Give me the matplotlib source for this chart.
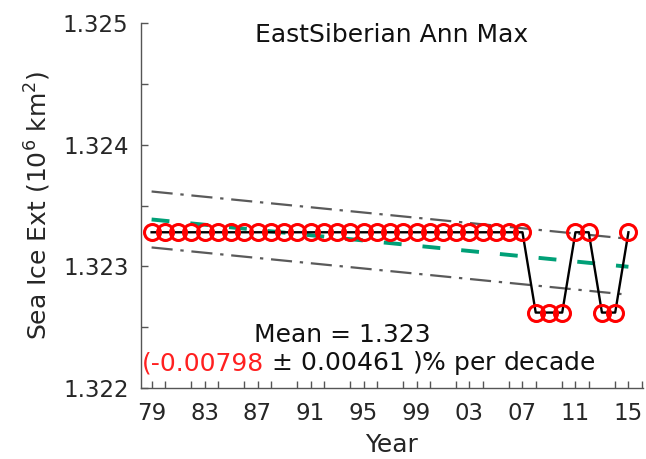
import numpy as np
import matplotlib
matplotlib.use("Agg")
import matplotlib.pyplot as plt
from matplotlib.ticker import MultipleLocator, FixedLocator

# Data
years = np.arange(1979, 2016)
high, low = 1.32328, 1.32262
values = np.array([high] * 29 + [low] * 3 + [high] * 2 + [low] * 2 + [high])
ci_offset = 0.00023
mean_text = "Mean = 1.323"
trend_val = "-0.00798"
trend_err = "0.00461"
xtick_years = list(range(1979, 2016, 4))
xtick_labels = [f"{y % 100:02d}" for y in xtick_years]
yticks = [1.322, 1.323, 1.324, 1.325]

plt.rcParams['font.family'] = ['DejaVu Sans']
fig = plt.figure(figsize=(6.46, 4.59), dpi=100)
ax = fig.add_axes([141/646, 1 - 388/459, (643-141)/646, (388-23)/459])

coef = np.polyfit(years, values, 1)
trend = np.polyval(coef, years)

dd = (0, (9.5, 3.5, 1.5, 3.5))
ax.plot(years, trend + ci_offset, color='#5a5a5a', lw=1.6, ls=dd)
ax.plot(years, trend - ci_offset, color='#5a5a5a', lw=1.6, ls=dd)
ax.plot(years, trend, color='#00a077', lw=2.8, ls=(0, (4.6, 5.4)))
ax.plot(years, values, color='black', lw=1.7, marker='o', ms=11.5,
        mfc='none', mec='#ff0000', mew=2.2)

ax.set_xlim(1978.2, 2016.1)
ax.set_ylim(1.322, 1.325)
ax.xaxis.set_major_locator(FixedLocator(xtick_years))
ax.set_xticklabels(xtick_labels)
ax.xaxis.set_minor_locator(MultipleLocator(2))
ax.set_yticks(yticks)
ax.set_yticklabels([f"{v:.3f}" for v in yticks])
ax.yaxis.set_minor_locator(MultipleLocator(0.0005))

txtc = '#262626'
ax.tick_params(which='both', direction='in', length=5, width=1, color='#555555',
               labelsize=16.5, labelcolor=txtc)
ax.tick_params(axis='x', pad=10)
ax.tick_params(axis='y', pad=9)
for s in ['top', 'right']:
    ax.spines[s].set_visible(False)
for s in ['left', 'bottom']:
    ax.spines[s].set_color('#555555')
    ax.spines[s].set_linewidth(1)

ax.set_xlabel("Year", fontsize=18, color=txtc, labelpad=6)
ax.set_ylabel("Sea Ice Ext (10$^6$ km$^2$)", fontsize=18, color=txtc, labelpad=7)
ax.text(0.5, 0.968, "EastSiberian Ann Max", transform=ax.transAxes, ha='center',
        va='center', fontsize=18, color='#111111')

ax.text(0.401, 0.145, mean_text, transform=ax.transAxes, ha='center', va='center',
        fontsize=18, color='#111111')
t1 = ax.text(0.002, 0.068, f"({trend_val}", transform=ax.transAxes, ha='left',
             va='center', fontsize=18, color='#ff2020')
fig.canvas.draw()
bb = t1.get_window_extent()
inv = ax.transAxes.inverted()
x1 = inv.transform((bb.x1, bb.y0))[0]
ax.text(x1, 0.068, f" $\\pm$ {trend_err} )% per decade", transform=ax.transAxes,
        ha='left', va='center', fontsize=18, color='#111111')

fig.savefig("out.png", dpi=100)
